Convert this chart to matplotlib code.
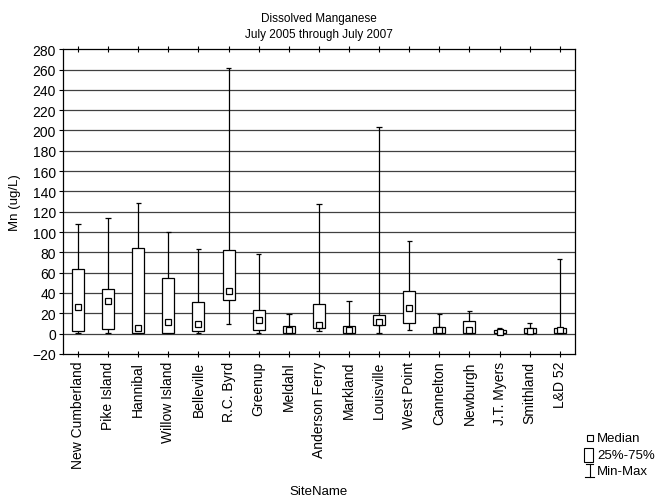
import matplotlib.pyplot as plt
from matplotlib.lines import Line2D
from matplotlib.patches import Rectangle

plt.rcParams['font.family'] = ['Liberation Sans', 'DejaVu Sans']

# Data (ug/L)
sites = ['New Cumberland', 'Pike Island', 'Hannibal', 'Willow Island', 'Belleville',
         'R.C. Byrd', 'Greenup', 'Meldahl', 'Anderson Ferry', 'Markland',
         'Louisville', 'West Point', 'Cannelton', 'Newburgh', 'J.T. Myers',
         'Smithland', 'L&D 52']
mn_min = [0.7, 0.7, 0.3, 0.7, 0.7, 9.8, 1.0, 0.3, 2.9, 0.3, 0.7, 3.6, 0.3, 0.3, 0.2, 0.3, 0.3]
mn_q1 = [2.3, 4.6, 0.7, 1.0, 2.3, 32.7, 3.3, 0.7, 5.6, 0.7, 8.8, 10.5, 1.0, 0.7, 0.2, 0.3, 0.7]
mn_median = [26.5, 32.3, 5.9, 11.0, 9.1, 41.5, 13.1, 3.9, 8.8, 3.6, 11.8, 24.8, 3.9, 3.9, 2.0, 2.9, 3.3]
mn_q3 = [63.7, 43.5, 84.0, 54.9, 30.7, 82.3, 22.9, 7.5, 29.4, 7.5, 18.3, 42.1, 6.9, 12.1, 3.3, 5.6, 5.9]
mn_max = [108, 114, 128.7, 99.6, 83.3, 261.4, 78.4, 19.3, 127.7, 32.3, 203, 90.8, 19.0, 21.9, 5.6, 10.1, 73.8]
yticks = list(range(-20, 281, 20))

fig = plt.figure(figsize=(6.63, 5.02), dpi=100)
ax = fig.add_axes([0.095, 0.293, 0.772, 0.607])

x = list(range(len(sites)))

# grid lines
for t in yticks[1:-1]:
    ax.axhline(t, color='0.25', lw=0.9, zorder=0)

# whiskers and caps
ax.vlines(x, mn_min, mn_max, color='black', lw=0.9, zorder=1)
ax.hlines(mn_max, [i - 0.09 for i in x], [i + 0.09 for i in x], color='black', lw=0.9, zorder=1)
ax.hlines(mn_min, [i - 0.09 for i in x], [i + 0.09 for i in x], color='black', lw=0.9, zorder=1)

# boxes
heights = [q3 - q1 for q1, q3 in zip(mn_q1, mn_q3)]
ax.bar(x, heights, bottom=mn_q1, width=0.4, facecolor='white', edgecolor='black',
       linewidth=0.9, zorder=2)

# medians
ax.plot(x, mn_median, ls='none', marker='s', ms=5, mfc='white', mec='black',
        mew=0.9, zorder=3)

ax.set_xlim(-0.5, len(sites) - 0.5)
ax.set_ylim(-20, 280)
ax.set_yticks(yticks)
ax.set_xticks(x)
ax.set_xticklabels(sites, rotation=90, fontsize=10)
ax.tick_params(axis='y', labelsize=10, direction='out', length=3, width=0.8, pad=2)
ax.tick_params(axis='x', direction='inout', length=4, width=0.8, top=True, pad=3)
for s in ax.spines.values():
    s.set_linewidth(0.9)

ax.set_ylabel('Mn (ug/L)', fontsize=9.5, labelpad=8)
ax.set_xlabel('SiteName', fontsize=9.5)
ax.xaxis.set_label_coords(0.5, -0.43)
ax.set_title('Dissolved Manganese\nJuly 2005 through July 2007', fontsize=8.5,
             linespacing=1.45, pad=9)

# legend drawn in figure coordinates
fx, fy = 1 / 663, 1 / 502
fig.add_artist(Line2D([590 * fx], [1 - 439 * fy], marker='s', ms=4.5, mfc='white',
                      mec='black', mew=0.8, transform=fig.transFigure))
fig.add_artist(Rectangle((584 * fx, 1 - 463 * fy), 9 * fx, 14 * fy, facecolor='white',
                         edgecolor='black', lw=0.8, transform=fig.transFigure))
fig.add_artist(Line2D([589.5 * fx, 589.5 * fx], [1 - 465 * fy, 1 - 478 * fy], color='black',
                      lw=0.8, transform=fig.transFigure))
fig.add_artist(Line2D([586 * fx, 593 * fx], [1 - 465 * fy, 1 - 465 * fy], color='black',
                      lw=0.8, transform=fig.transFigure))
fig.add_artist(Line2D([585 * fx, 594 * fx], [1 - 478 * fy, 1 - 478 * fy], color='black',
                      lw=0.8, transform=fig.transFigure))
for label, yy in [('Median', 439), ('25%-75%', 456), ('Min-Max', 472)]:
    fig.text(597 * fx, 1 - yy * fy, label, fontsize=9.5, va='center', ha='left')

fig.savefig('out.png', dpi=100)
